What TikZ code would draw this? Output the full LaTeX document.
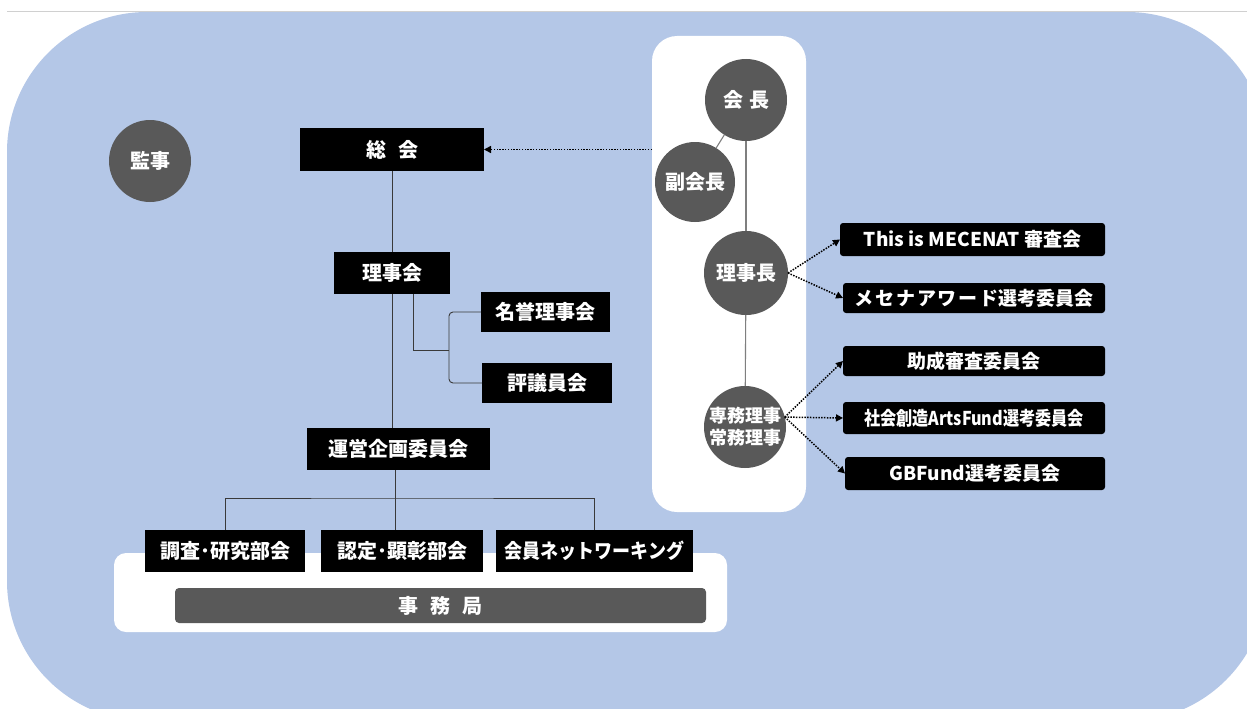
\documentclass[tikz,border=0pt]{standalone}
\usepackage{fontspec}
\usepackage{graphicx}
\newfontfamily\jp{Noto Sans CJK JP}
\usetikzlibrary{arrows.meta,calc}
\definecolor{bgblue}{HTML}{B4C7E7}
\definecolor{dgray}{HTML}{595959}
\definecolor{lgray}{HTML}{D0D0D0}
\definecolor{cline}{HTML}{7F7F7F}
\definecolor{tline}{HTML}{3A3A3A}
\begin{document}
\begin{tikzpicture}[x=1pt,y=-1pt,
  font=\jp\bfseries\fontsize{20}{23}\selectfont,
  bbox/.style={fill=black,text=white,inner sep=0pt,outer sep=0pt,minimum width=#1},
  rbox/.style={fill=black,text=white,inner sep=0pt,outer sep=0pt,rounded corners=3pt,minimum width=262pt,font=\jp\bfseries\fontsize{19}{22}\selectfont},
  circ/.style={circle,fill=dgray,text=white,inner sep=0pt,outer sep=0pt,minimum size=#1,align=center},
  tree/.style={draw=tline,line width=0.9pt},
  conn/.style={draw=cline,line width=1.1pt},
  dotarrow/.style={draw=black,line width=1.5pt,dash pattern=on 1.5pt off 1.3pt,-{Triangle[length=7pt,width=7pt]}}]
\useasboundingbox (0,0) rectangle (1247,709);
\begin{scope}
\clip (0,0) rectangle (1247,709);
\fill[bgblue] (7,12) [rounded corners=140pt] -- (1267,12) -- (1267,721) -- (7,721) -- cycle;
\end{scope}
\draw[lgray,line width=1pt] (7,12) -- (1247,12);
% white panels
\fill[white,rounded corners=25pt] (652,36) rectangle (806,512);
\fill[white,rounded corners=12pt] (114,553) rectangle (727,632);
\node[fill=dgray,text=white,rounded corners=4pt,minimum width=531pt,minimum height=35pt,inner sep=0pt] (jimu) at (440.5,605.5) {事\hspace{0.6em}務\hspace{0.6em}局};
% left tree boxes
\node[bbox=184pt,minimum height=43pt] (sokai) at (392,149.5) {総\hspace{0.6em}会};
\node[bbox=116pt,minimum height=42pt] (riji) at (392,273) {理事会};
\node[bbox=129pt,minimum height=40pt] (meiyo) at (545.5,312) {名誉理事会};
\node[bbox=130pt,minimum height=40pt] (hyogi) at (547,383) {評議員会};
\node[bbox=183pt,minimum height=42pt] (unei) at (398.5,449) {運営企画委員会};
\node[bbox=160pt,minimum height=42pt] (chosa) at (225,551) {調査･研究部会};
\node[bbox=162pt,minimum height=42pt] (nintei) at (402,551) {認定･顕彰部会};
\node[bbox=197pt,minimum height=42pt] (kaiin) at (594.5,551) {\scalebox{0.9}[1]{会員ネットワーキング}};
% circles
\node[circ=82pt] (kanji) at (150,161) {監事};
\node[circ=82pt] (kaicho) at (746,100) {会\hspace{0.3em}長};
\node[circ=80pt] (fuku) at (695,182) {副会長};
\node[circ=84pt] (rijicho) at (746,273) {理事長};
\node[circ=82pt,font=\jp\bfseries\fontsize{18}{22}\selectfont] (senmu) at (745,427) {専務理事\\常務理事};
% right boxes
\node[rbox,minimum width=265pt,minimum height=33pt] (mecenat) at (972.5,239.5) {This is MECENAT 審査会};
\node[rbox,minimum height=30pt] (award) at (974,298) {メ\hspace{0.1em}セ\hspace{0.1em}ナ\hspace{0.1em}ア\hspace{0.1em}ワ\hspace{0.1em}ー\hspace{0.1em}ド選考委員会};
\node[rbox,minimum height=30pt] (josei) at (974,361) {助成審査委員会};
\node[rbox,minimum height=32pt] (arts) at (974,418) {\scalebox{0.85}[1]{社会創造ArtsFund選考委員会}};
\node[rbox,minimum width=260pt,minimum height=33pt] (gb) at (975,473.5) {GBFund選考委員会};
% tree connectors
\draw[tree] (sokai.south) -- (riji.north);
\draw[tree] (riji.south) -- (unei.north -| riji.south);
\coordinate (j1) at (413,350);
\coordinate (j2) at (449,350);
\draw[tree] (riji.south -| j1) -- (j1) -- (j2);
\draw[tree,rounded corners=4pt] (meiyo.west) -| (j2) |- (hyogi.west);
\coordinate (h) at (395,498);
\draw[tree] (unei.south -| h) -- (nintei.north -| h);
\draw[tree] (chosa.north) |- (h) -| (kaiin.north);
% circle connectors
\draw[conn] (kaicho) -- (fuku);
\draw[conn] (kaicho) -- (rijicho);
\draw[conn] (rijicho) -- (senmu);
% dotted arrows
\coordinate (pstart) at (652,149.5);
\draw[dotarrow] (pstart) -- (sokai.east);
\draw[dotarrow] (rijicho.east) -- (mecenat.west);
\draw[dotarrow] (rijicho.east) -- (award.west);
\draw[dotarrow] (senmu.14) -- (josei.west);
\draw[dotarrow] (senmu.14) -- (arts.west);
\draw[dotarrow] (senmu.14) -- (gb.west);
\end{tikzpicture}
\end{document}
